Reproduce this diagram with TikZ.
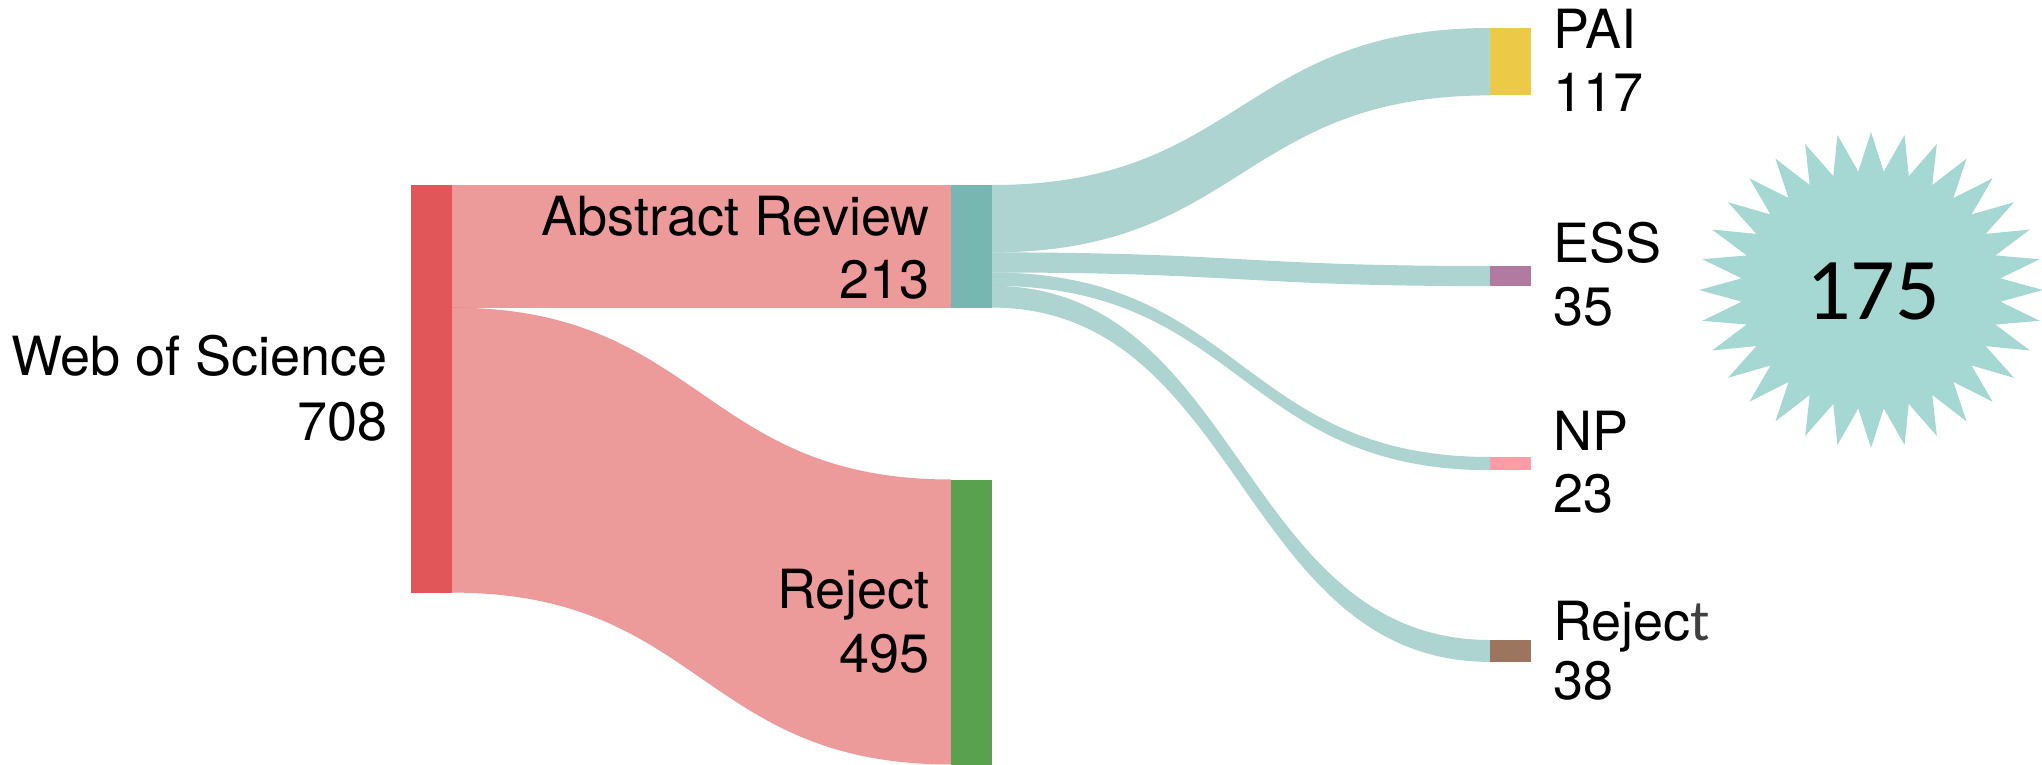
\documentclass[tikz,border=0pt]{standalone}
\usepackage{fontspec}
\newfontfamily\heros{TeX Gyre Heros}
\newfontfamily\carlito{Carlito}
\definecolor{wos}{HTML}{E15759}
\definecolor{arev}{HTML}{76B7B2}
\definecolor{rejg}{HTML}{59A14F}
\definecolor{pai}{HTML}{EDC948}
\definecolor{ess}{HTML}{B07AA1}
\definecolor{np}{HTML}{FF9DA7}
\definecolor{rejb}{HTML}{9C755F}
\definecolor{burst}{HTML}{A5D8D3}
\definecolor{tgray}{HTML}{404040}
\begin{document}
\begin{tikzpicture}[x=0.5pt,y=-0.5pt,
  lbl/.style={font=\heros\fontsize{27}{32}\selectfont, inner sep=0pt, text=black},
  pinkflow/.style={fill=wos, fill opacity=0.6},
  tealflow/.style={fill=arev, fill opacity=0.6}]
\useasboundingbox (0,0) rectangle (2042,765);
% pink flows
\fill[pinkflow] (452,185) rectangle (951,307.6);
\fill[pinkflow] (452,307.6) .. controls (701.5,307.6) and (701.5,479.5) .. (951,479.5)
  -- (951,764.5) .. controls (701.5,764.5) and (701.5,592.6) .. (452,592.6) -- cycle;
% teal flows
\fill[tealflow] (992,185) .. controls (1241,185) and (1241,28) .. (1490,28)
  -- (1490,95.4) .. controls (1241,95.4) and (1241,252.4) .. (992,252.4) -- cycle;
\fill[tealflow] (992,252.4) .. controls (1241,252.4) and (1241,266) .. (1490,266)
  -- (1490,286.1) .. controls (1241,286.1) and (1241,272.5) .. (992,272.5) -- cycle;
\fill[tealflow] (992,272.5) .. controls (1241,272.5) and (1241,457) .. (1490,457)
  -- (1490,470.2) .. controls (1241,470.2) and (1241,285.8) .. (992,285.8) -- cycle;
\fill[tealflow] (992,285.8) .. controls (1241,285.8) and (1241,640) .. (1490,640)
  -- (1490,661.9) .. controls (1241,661.9) and (1241,307.6) .. (992,307.6) -- cycle;
% bars
\fill[wos] (411,185) rectangle (452,592.6);
\fill[arev] (951,185) rectangle (992,307.6);
\fill[rejg] (951,479.5) rectangle (992,764.5);
\fill[pai] (1490,28) rectangle (1531,95.4);
\fill[ess] (1490,266) rectangle (1531,286.1);
\fill[np] (1490,457) rectangle (1531,470.2);
\fill[rejb] (1490,640) rectangle (1531,661.9);
% labels
\node[lbl, anchor=base east] (wosA) at (388,375) {Web of Science};
\node[lbl, anchor=base east] (wosB) at (388,440) {708};
\node[lbl, anchor=base east] (arA) at (930,235) {Abstract Review};
\node[lbl, anchor=base east] (arB) at (930,298) {213};
\node[lbl, anchor=base east] (rjA) at (930,608) {Reject};
\node[lbl, anchor=base east] (rjB) at (930,672) {495};
\node[lbl, anchor=base west] (paiA) at (1553,49) {PAI};
\node[lbl, anchor=base west] (paiB) at (1553,112) {117};
\node[lbl, anchor=base west] (essA) at (1553,263) {ESS};
\node[lbl, anchor=base west] (essB) at (1553,325) {35};
\node[lbl, anchor=base west] (npA) at (1553,450) {NP};
\node[lbl, anchor=base west] (npB) at (1553,512) {23};
\node[lbl, anchor=base west] (rbA) at (1553,640) {Rejec{\carlito\fontsize{29}{32}\selectfont\color{tgray}t}};
\node[lbl, anchor=base west] (rbB) at (1553,699) {38};
% starburst
\fill[burst] plot[samples at={0,...,63}, variable=\k]
  ({1871+ifthenelse(mod(\k,2)==0,172,130)*cos(90+5.625*\k)},
   {290-ifthenelse(mod(\k,2)==0,158,119)*sin(90+5.625*\k)}) -- cycle;
\node[font=\carlito\fontsize{44}{50}\selectfont, inner sep=0pt] (total) at (1873,291) {175};
\end{tikzpicture}
\end{document}
